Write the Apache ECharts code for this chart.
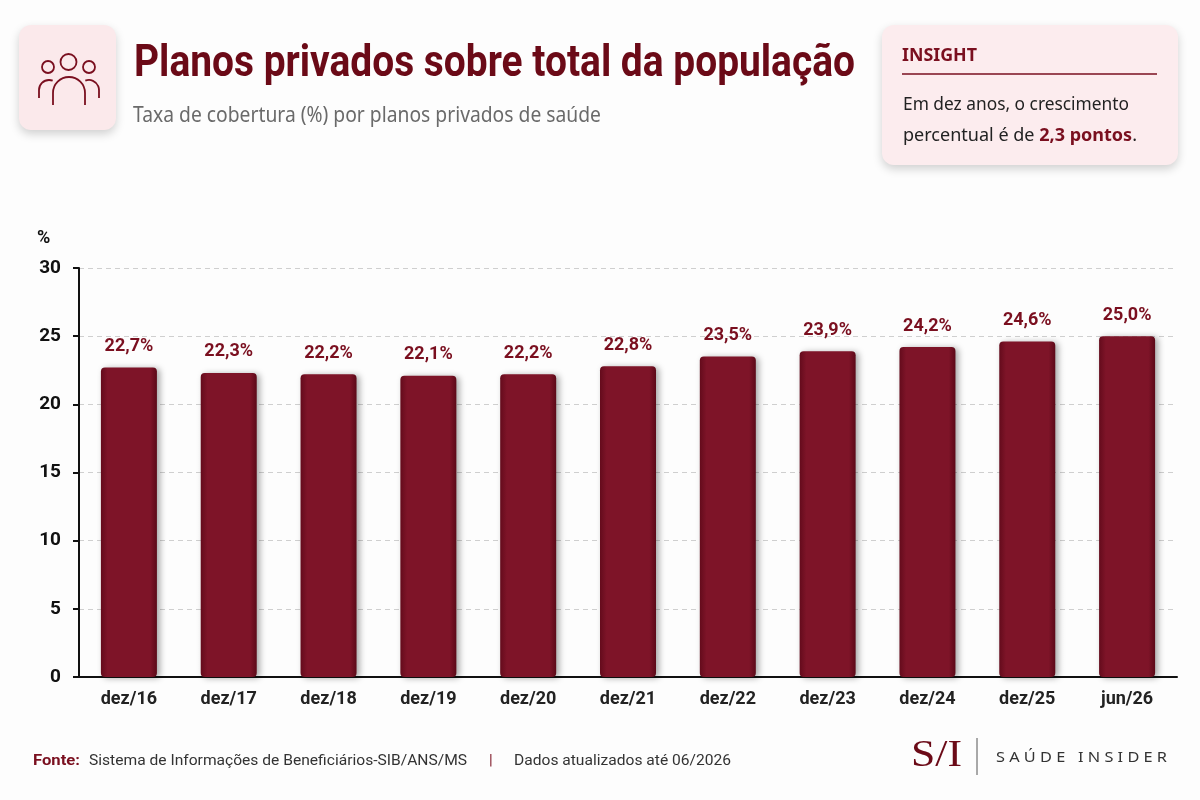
<!DOCTYPE html>
<html><head><meta charset="utf-8">
<script src="https://cdn.jsdelivr.net/npm/echarts@6/dist/echarts.min.js"></script>
<style>html,body{margin:0;padding:0;background:#fdfdfd;}#c{width:1200px;height:800px;}</style>
</head><body><div id="c"></div>
<script>
const categories = ['dez/16','dez/17','dez/18','dez/19','dez/20','dez/21','dez/22','dez/23','dez/24','dez/25','jun/26'];
const values = [22.7,22.3,22.2,22.1,22.2,22.8,23.5,23.9,24.2,24.6,25.0];
const yTicks = [0,5,10,15,20,25,30];

const RED = '#7a0f1f';
const chart = echarts.init(document.getElementById('c'));
const ctx = document.createElement('canvas').getContext('2d');
function fit(text, font, w){ ctx.font = font; return w / ctx.measureText(text).width; }
function ftext(x, y, text, font, w, fill, va){
  return {type:'text', x:x, y:y, scaleX:fit(text,font,w),
    style:{text:text, font:font, fill:fill, textVerticalAlign:va||'middle'}};
}
const ic = {fill:'none',stroke:RED,lineWidth:1.8};
const TF = 'bold 44px Roboto';
const FF = '15px Roboto';
const IF = '18px "Noto Sans"';
const IFB = 'bold 18px "Noto Sans"';
const l2a = 'percentual é de ', l2b = '2,3 pontos', l2c = '.';
ctx.font = IF; const wa = ctx.measureText(l2a).width, wc = ctx.measureText(l2c).width;
ctx.font = IFB; const wb = ctx.measureText(l2b).width;
const l2scale = 234 / (wa + wb + wc);

chart.setOption({
  backgroundColor:'#fdfdfd',
  animation:false,
  grid:{left:79,right:23,top:268,bottom:123},
  xAxis:{type:'category',data:categories,
    axisLine:{lineStyle:{color:'#111',width:2}},
    axisTick:{show:false},
    axisLabel:{color:'#222',fontFamily:'Roboto',fontWeight:'bold',fontSize:18,margin:13}},
  yAxis:{type:'value',min:yTicks[0],max:yTicks[yTicks.length-1],interval:5,
    axisLine:{show:true,lineStyle:{color:'#111',width:2}},
    axisTick:{show:true,length:6,lineStyle:{color:'#111',width:2}},
    axisLabel:{color:'#111',fontFamily:'Roboto',fontWeight:'bold',fontSize:19,margin:18},
    splitLine:{lineStyle:{color:'#cfcfcf',type:[5,4]}}},
  series:[{type:'bar',data:values,barWidth:56,
    itemStyle:{borderRadius:4,
      color:new echarts.graphic.LinearGradient(0,0,1,0,[{offset:0,color:'#640b1c'},{offset:0.12,color:'#7e1428'},{offset:0.88,color:'#7e1428'},{offset:1,color:'#5c0918'}]),
      shadowBlur:6,shadowColor:'rgba(0,0,0,0.35)',shadowOffsetX:3,shadowOffsetY:1},
    label:{show:true,position:'top',distance:12,color:RED,fontFamily:'Roboto',fontWeight:'bold',fontSize:18,
      formatter:p=>p.value.toFixed(1).replace('.',',')+'%'}}],
  graphic:[
    {type:'text',x:37,y:238,style:{text:'%',fill:'#111',font:'bold 18px Roboto',textVerticalAlign:'middle'}},
    // icon box
    {type:'rect',shape:{x:19,y:25,width:97,height:105,r:12},style:{fill:'#fbe9eb',shadowBlur:10,shadowColor:'rgba(0,0,0,0.18)',shadowOffsetY:4}},
    {type:'circle',shape:{cx:48,cy:67,r:6},style:ic},
    {type:'circle',shape:{cx:68.5,cy:62,r:8},style:ic},
    {type:'circle',shape:{cx:89,cy:67,r:6},style:ic},
    {type:'arc',shape:{cx:69,cy:93,r:16,startAngle:Math.PI,endAngle:2*Math.PI,clockwise:true},style:ic},
    {type:'polyline',shape:{points:[[53,93],[53,105]]},style:ic},
    {type:'polyline',shape:{points:[[85,93],[85,105]]},style:ic},
    {type:'arc',shape:{cx:49,cy:90,r:10,startAngle:Math.PI,endAngle:1.62*Math.PI,clockwise:true},style:ic},
    {type:'polyline',shape:{points:[[39,90],[39,98]]},style:ic},
    {type:'arc',shape:{cx:89,cy:90,r:10,startAngle:1.38*Math.PI,endAngle:2*Math.PI,clockwise:true},style:ic},
    {type:'polyline',shape:{points:[[99,90],[99,98]]},style:ic},
    // title
    ftext(134, 65, 'Planos privados sobre total da população', TF, 721, '#6b0a17'),
    ftext(133, 116, 'Taxa de cobertura (%) por planos privados de saúde', '21px "Noto Sans"', 468, '#6a6a6a'),
    // insight
    {type:'rect',shape:{x:882,y:25,width:296,height:140,r:12},style:{fill:'#fcecee',shadowBlur:10,shadowColor:'rgba(0,0,0,0.18)',shadowOffsetY:4}},
    ftext(902, 56, 'INSIGHT', 'bold 18px "Noto Sans"', 75, RED),
    {type:'line',shape:{x1:902,y1:74,x2:1157,y2:74},style:{stroke:RED,lineWidth:1.5}},
    ftext(903, 105, 'Em dez anos, o crescimento', IF, 226, '#222'),
    {type:'group',x:903,y:135.5,scaleX:l2scale,children:[
      {type:'text',x:0,y:0,style:{text:l2a,font:IF,fill:'#222',textVerticalAlign:'middle'}},
      {type:'text',x:wa,y:0,style:{text:l2b,font:IFB,fill:RED,textVerticalAlign:'middle'}},
      {type:'text',x:wa+wb,y:0,style:{text:l2c,font:IF,fill:'#222',textVerticalAlign:'middle'}}
    ]},
    // footer
    ftext(33, 761, 'Fonte:', 'bold 15px Roboto', 47, RED),
    ftext(89, 761, 'Sistema de Informações de Beneficiários-SIB/ANS/MS', FF, 378, '#333'),
    {type:'text',x:489,y:761,style:{text:'|',font:FF,fill:RED,textVerticalAlign:'middle'}},
    ftext(514, 761, 'Dados atualizados até 06/2026', FF, 217, '#333'),
    ftext(911, 756, 'S/I', '38px "Liberation Serif"', 51, '#6b0a17'),
    {type:'line',shape:{x1:977,y1:738,x2:977,y2:775},style:{stroke:'#555',lineWidth:1}},
    ftext(996, 758, 'S A Ú D E   I N S I D E R', '15px "Noto Sans"', 171, '#333')
  ]
});
</script></body></html>
